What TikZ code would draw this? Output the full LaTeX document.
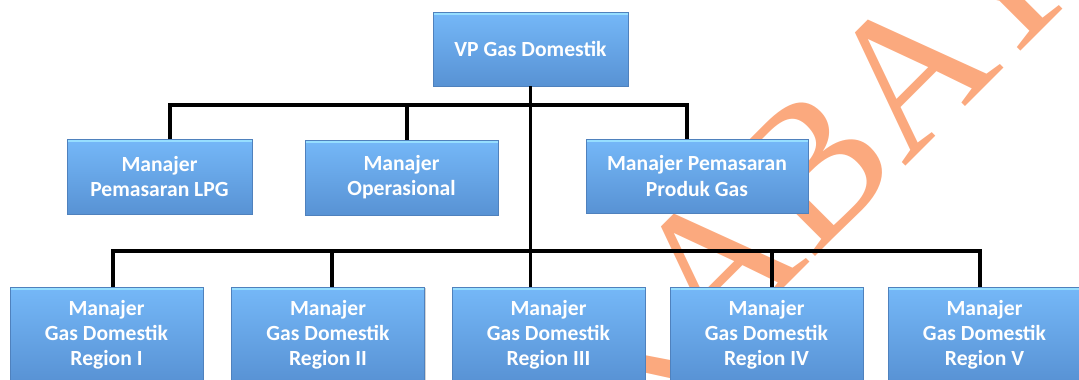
\documentclass[tikz,border=0pt]{standalone}
\usepackage{fontspec}
\newfontfamily\hurufkotak{Carlito}
\newfontfamily\hurufcap{Liberation Serif}
\usetikzlibrary{positioning}
\usetikzlibrary{shadows}

\definecolor{biruatas}{RGB}{117,184,248}
\definecolor{birubawah}{RGB}{88,146,212}
\definecolor{birutepi}{RGB}{79,129,189}
\definecolor{biruterang}{RGB}{150,222,255}
\definecolor{jingga}{RGB}{251,169,126}

\tikzset{
    jabatan/.style={rectangle, inner sep=0pt, align=center, text=white,
        font=\hurufkotak\bfseries\fontsize{12.3}{14.3}\selectfont,
        top color=biruatas, bottom color=birubawah, draw=birutepi, line width=.3pt,
        drop shadow={shadow xshift=.6pt, shadow yshift=-.8pt, opacity=.35},
        path picture={\fill[biruterang] (path picture bounding box.north west)
            rectangle ([yshift=-1.5pt]path picture bounding box.north east);}},
    garis/.style={line width=2pt, black}
}

\begin{document}
\begin{tikzpicture}[x=0.02cm, y=-0.02cm]
    \useasboundingbox (0,0) rectangle (1079,379);
    \clip (0,0) rectangle (1079,379);

    % watermark
    \node[text=jingga, font=\hurufcap\fontsize{112}{112}\selectfont, rotate=45,
        anchor=base west, inner sep=0pt] (cap) at (440,632) {SURABAYA};

    \node[jabatan, minimum width=3.9cm, minimum height=1.48cm] (vp) at (530.5,49) {VP Gas Domestik};

    \node[jabatan, minimum width=3.7cm, minimum height=1.5cm] (lpg) at (159.5,176.5) {Manajer\\Pemasaran LPG};
    \node[jabatan, minimum width=3.86cm, minimum height=1.5cm] (ops) at (401.5,177.5) {Manajer\\Operasional};
    \node[jabatan, minimum width=4.44cm, minimum height=1.48cm] (produk) at (697,176) {Manajer Pemasaran\\Produk Gas};

    \foreach \i/\x/\r in {1/106.5/I, 2/328/II, 3/548.5/III, 4/766.5/IV, 5/984.5/V}
        \node[jabatan, minimum width=3.86cm, minimum height=1.9cm] (reg\i) at (\x,334.5)
            {Manajer\\Gas Domestik\\Region \r};

    \coordinate (t1) at (170,105);
    \coordinate (t2) at (407,105);
    \coordinate (t3) at (687,105);
    \coordinate (s1) at (113,251);
    \coordinate (s2) at (332,251);
    \coordinate (s4) at (772,251);
    \coordinate (s5) at (980,251);

    \draw[garis] (vp.south) -- (vp.south |- reg3.north);
    \draw[garis] (lpg.north -| t1) |- (t3) -- (t3 |- produk.north);
    \draw[garis] (t2) -- (t2 |- ops.north);
    \draw[garis] (reg1.north -| s1) |- (s5) -- (s5 |- reg5.north);
    \draw[garis] (s2) -- (s2 |- reg2.north);
    \draw[garis] (s4) -- (s4 |- reg4.north);
\end{tikzpicture}
\end{document}
